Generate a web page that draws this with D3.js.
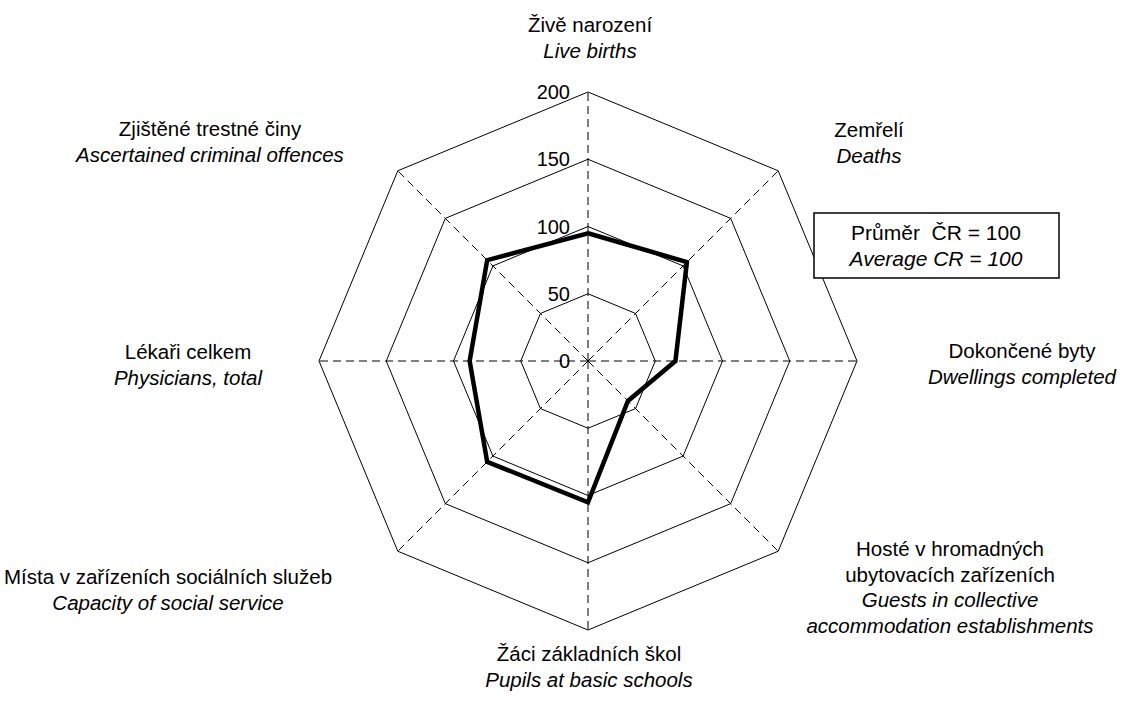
<!DOCTYPE html>
<html>
<head>
<meta charset="utf-8">
<script src="https://cdn.jsdelivr.net/npm/d3@7"></script>
<style>
  body { margin: 0; background: #fff; }
  svg { font-family: "Liberation Sans", Arial, sans-serif; }
</style>
</head>
<body>
<main></main>
<script>
// categories (Czech / English), clockwise from top
const axesCz = ["Živě narození", "Zemřelí", "Dokončené byty", "Hosté v hromadných|ubytovacích zařízeních",
  "Žáci základních škol", "Místa v zařízeních sociálních služeb", "Lékaři celkem", "Zjištěné trestné činy"];
const axesEn = ["Live births", "Deaths", "Dwellings completed", "Guests in collective|accommodation establishments",
  "Pupils at basic schools", "Capacity of social service", "Physicians, total", "Ascertained criminal offences"];
const values = [95, 104, 65, 42, 105, 106, 88, 106];
const ticks = [0, 50, 100, 150, 200];

const W = 1122, H = 711;
const cx = 588, cy = 361, R = 269;

const r = d3.scaleLinear().domain([0, 200]).range([0, R]);
const angle = i => i * Math.PI / 4; // 0 = up, clockwise
const pt = (i, v) => [cx + r(v) * Math.sin(angle(i)), cy - r(v) * Math.cos(angle(i))];

const svg = d3.select("main").append("svg")
    .attr("width", W)
    .attr("height", H);

// spokes
svg.selectAll(".spoke")
    .data(axesCz)
  .enter().append("line")
    .attr("x1", cx).attr("y1", cy)
    .attr("x2", (d, i) => pt(i, 200)[0])
    .attr("y2", (d, i) => pt(i, 200)[1])
    .style("stroke", "#000")
    .style("stroke-width", 1)
    .style("stroke-dasharray", "8,5");

// rings
const ring = d3.line();
svg.selectAll(".ring")
    .data(ticks.filter(t => t > 0))
  .enter().append("path")
    .attr("d", t => ring(axesCz.map((d, i) => pt(i, t))) + "Z")
    .style("fill", "none")
    .style("stroke", "#000")
    .style("stroke-width", 1);

// tick labels
svg.selectAll(".tick")
    .data(ticks)
  .enter().append("text")
    .attr("x", cx - 18)
    .attr("y", t => cy - r(t))
    .attr("dy", "0.36em")
    .style("text-anchor", "end")
    .style("font-size", "20px")
    .text(t => t);

// data
svg.append("path")
    .attr("d", ring(values.map((v, i) => pt(i, v))) + "Z")
    .style("fill", "none")
    .style("stroke", "#000")
    .style("stroke-width", 4.5)
    .style("stroke-linejoin", "miter");

// category labels
const labelPos = [
  [590, 32], [869, 137], [1022, 358], [950, 556],
  [589, 661], [168, 584], [188, 359], [210, 136]
];
const lh = 25.5;
axesCz.forEach((name, i) => {
  const lines = name.split("|").map(t => ({t, it: false}))
    .concat(axesEn[i].split("|").map(t => ({t, it: true})));
  svg.append("text")
      .attr("x", labelPos[i][0])
      .attr("y", labelPos[i][1])
      .style("text-anchor", "middle")
      .style("font-size", "20.5px")
    .selectAll("tspan")
      .data(lines)
    .enter().append("tspan")
      .attr("x", labelPos[i][0])
      .attr("dy", (d, j) => j ? lh : 0)
      .style("font-style", d => d.it ? "italic" : "normal")
      .text(d => d.t);
});

// legend box
const legend = svg.append("g").attr("transform", "translate(814,213)");
legend.append("rect")
    .attr("width", 245).attr("height", 65)
    .style("fill", "#fff")
    .style("stroke", "#000")
    .style("stroke-width", 1.5);
legend.append("text")
    .attr("x", 122).attr("y", 27)
    .style("text-anchor", "middle")
    .style("font-size", "21px")
    .style("white-space", "pre")
    .text("Průměr  ČR = 100");
legend.append("text")
    .attr("x", 122).attr("y", 53)
    .style("text-anchor", "middle")
    .style("font-size", "21px")
    .style("font-style", "italic")
    .text("Average CR = 100");
</script>
</body>
</html>
